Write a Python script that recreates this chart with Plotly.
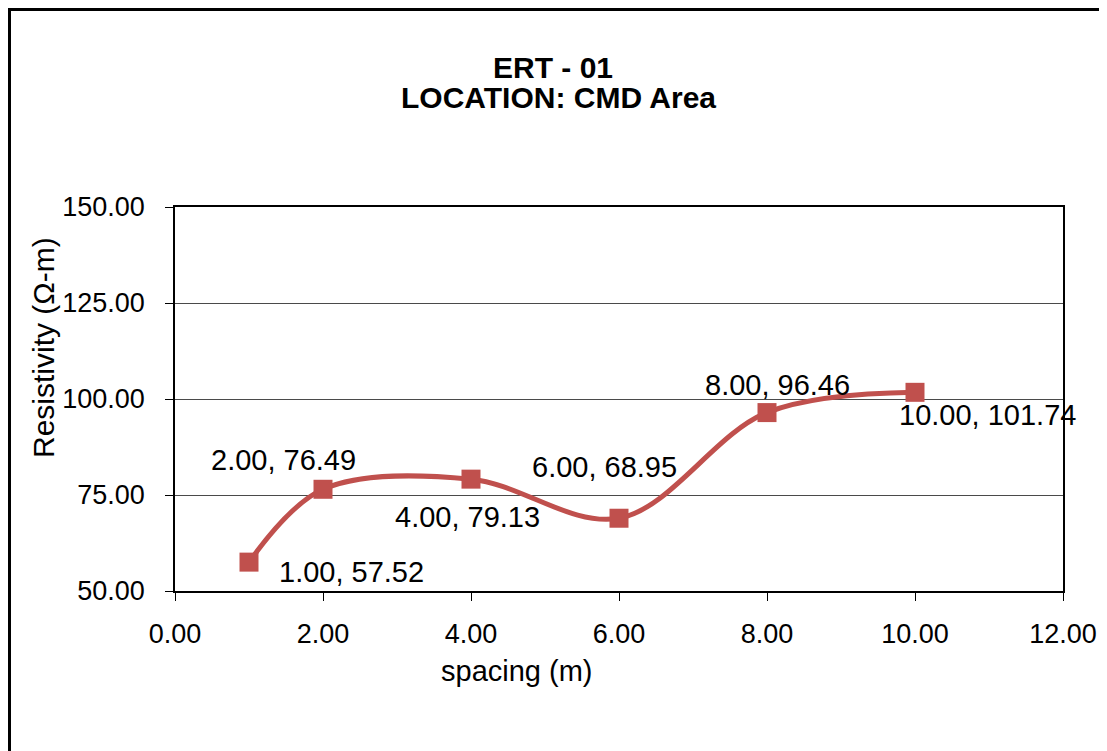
import plotly.graph_objects as go

spacing = [1, 2, 4, 6, 8, 10]
resistivity = [57.52, 76.49, 79.13, 68.95, 96.46, 101.74]
x_ticks = [0, 2, 4, 6, 8, 10, 12]
y_ticks = [50, 75, 100, 125, 150]
title_line1 = "ERT - 01"
title_line2 = "LOCATION: CMD Area"
x_title = "spacing (m)"
y_title = "Resistivity (Ω-m)"

# label offsets in pixels (x, y) relative to each point
label_shift = [(102, -10), (-40, 29), (-4, -38), (-15, 51), (10, 28), (72, -23)]

FONT = "Liberation Sans, Arial, sans-serif"
RED = "#C0504D"

fig = go.Figure()
fig.add_trace(go.Scatter(
    x=spacing, y=resistivity, mode="lines+markers",
    line=dict(color=RED, width=5, shape="spline", smoothing=1.0),
    marker=dict(symbol="square", size=19, color=RED),
    showlegend=False, hoverinfo="skip",
))

annotations = []
for (xv, yv), (dx, dy) in zip(zip(spacing, resistivity), label_shift):
    annotations.append(dict(
        x=xv, y=yv, xref="x", yref="y", showarrow=False,
        text=f"{xv:.2f}, {yv:.2f}", xshift=dx, yshift=dy,
        font=dict(family=FONT, size=29, color="black"),
    ))

OFF = 8  # page body margin
PL, PR, PT, PB = 175, 1063, 207, 591  # plot area in page pixels
L, T = PL - OFF, PT - OFF
W, H = 1107, 751
R = W - (PR - OFF)
B = H - (PB - OFF)
PW, PH = PR - PL, PB - PT

def px(x):
    return (x - PL) / PW

def py(y):
    return 1 - (y - PT) / PH

annotations += [
    dict(x=px(553), y=py(67), xref="paper", yref="paper", showarrow=False,
         text=f"<b>{title_line1}</b>", font=dict(family=FONT, size=30, color="black"),
         xanchor="center", yanchor="middle"),
    dict(x=px(558), y=py(97), xref="paper", yref="paper", showarrow=False,
         text=f"<b>{title_line2}</b>", font=dict(family=FONT, size=30, color="black"),
         xanchor="center", yanchor="middle"),
    dict(x=px(517), y=py(671), xref="paper", yref="paper", showarrow=False,
         text=x_title, font=dict(family=FONT, size=29, color="black"),
         xanchor="center", yanchor="middle"),
    dict(x=px(43), y=py(348), xref="paper", yref="paper", showarrow=False,
         text=y_title, textangle=-90, font=dict(family=FONT, size=30, color="black"),
         xanchor="center", yanchor="middle"),
]

fig.update_layout(
    width=W, height=H,
    margin=dict(l=L, r=R, t=T, b=B),
    paper_bgcolor="white", plot_bgcolor="white",
    font=dict(family=FONT, size=27, color="black"),
    annotations=annotations,
    shapes=[dict(type="rect", xref="paper", yref="paper",
                 x0=px(9.5), y0=py(800), x1=px(1200), y1=py(9.5),
                 line=dict(color="black", width=3), layer="above")],
)
fig.update_xaxes(
    range=[0, 12], tickvals=x_ticks, ticktext=[f"{v:.2f}" for v in x_ticks],
    showgrid=False, zeroline=False, showline=True, linecolor="black", linewidth=1.5,
    mirror=True, ticks="outside", ticklen=8, tickcolor="black", tickwidth=1.2,
    ticklabelstandoff=10,
)
fig.update_yaxes(
    range=[50, 150], tickvals=y_ticks, ticktext=[f"{v:.2f}" for v in y_ticks],
    showgrid=True, gridcolor="#4a4a4a", gridwidth=1.2, zeroline=False,
    showline=True, linecolor="black", linewidth=1.5, mirror=True,
    ticks="outside", ticklen=8, tickcolor="black", tickwidth=1.2,
    ticklabelstandoff=15,
)

fig.write_html("out.html")
